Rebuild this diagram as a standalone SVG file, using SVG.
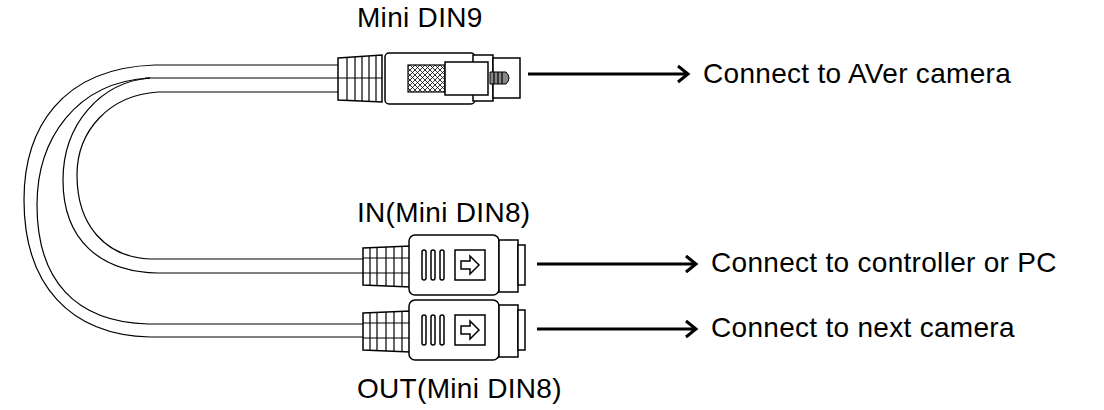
<svg xmlns="http://www.w3.org/2000/svg" width="1104" height="410" viewBox="0 0 1104 410">
<style>
.t{font-family:"Liberation Sans",Arial,sans-serif;font-size:28px;letter-spacing:0.3px;fill:#000}
.c{fill:none;stroke:#000;stroke-width:1.2}
.o{fill:#fff;stroke:#000;stroke-width:1.5}
.a{fill:none;stroke:#000;stroke-width:3}
</style>
<defs>
<pattern id="hx" width="5" height="5" patternUnits="userSpaceOnUse">
<path d="M0,0L5,5M5,0L0,5" stroke="#000" stroke-width="0.8"/>
</pattern>
<g id="din8">
<path class="o" d="M363,248 L410,246 L410,287 L363,285 Z"/>
<path class="c" d="M370,247V286M377,247V286M386,247V286M394,247V286M402,247V286M363,258H410M363,273H410"/>
<rect class="o" x="409" y="235" width="90" height="60" rx="6"/>
<path class="o" d="M499,240H518V292H499Z"/>
<path class="o" d="M518,245H525V285H518Z"/>
<rect class="o" x="422" y="250" width="4" height="30" rx="2"/>
<rect class="o" x="431" y="250" width="4" height="30" rx="2"/>
<rect class="o" x="440" y="250" width="4" height="30" rx="2"/>
<rect class="o" x="455" y="250" width="30" height="30"/>
<path class="o" d="M461,261H470V256L479,265L470,274V269H461Z"/>
</g>
</defs>
<g id="cables">
<path class="c" d="M155,65H340M145,78H340M158,92H340"/>
<path class="c" d="M155,65 C60,68 24,130 24,200 C24,285 70,335 150,337H363"/>
<path class="c" d="M150,78 C75,82 37,140 37,205 C37,280 75,322 148,324H363"/>
<path class="c" d="M150,78 C100,82 63,125 63,180 C63,240 100,272 158,273H363"/>
<path class="c" d="M158,92 C110,95 77,130 77,175 C77,225 105,257 150,259H363"/>
</g>
<g id="din9">
<path class="o" d="M338,58 L382,55 L382,102 L338,100 Z"/>
<path class="c" d="M347,57V101M355,57V101M362,57V101M369,56V102M376,56V102M338,78H382"/>
<rect class="o" x="385" y="53" width="90" height="51" rx="4"/>
<rect x="408" y="65" width="37" height="27" fill="url(#hx)" stroke="#000" stroke-width="1.2"/>
<path class="o" d="M473,55H493V101H473Z"/>
<path class="o" d="M445,62H488V95H445Z"/>
<path class="o" d="M493,58H520V98H493Z"/>
<path d="M490,72H506Q512,78 506,84H490Z" fill="#888" stroke="#000"/>
<path class="c" d="M494,72V84M498,72V84M502,72V84"/>
</g>
<g id="in"><use href="#din8"/></g>
<g id="out"><use href="#din8" transform="translate(0,65)"/></g>
<g id="connectors">
<path class="a" d="M528,74H686M678,66L688,74L678,82"/>
<path class="a" d="M537,264H694M686,256L696,264L686,272"/>
<path class="a" d="M537,329H694M686,321L696,329L686,337"/>
</g>
<g id="labels">
<text class="t" x="357" y="27">Mini DIN9</text>
<text class="t" x="703" y="83">Connect to AVer camera</text>
<text class="t" x="357" y="222">IN(Mini DIN8)</text>
<text class="t" x="711" y="272">Connect to controller or PC</text>
<text class="t" x="711" y="337">Connect to next camera</text>
<text class="t" x="357" y="398">OUT(Mini DIN8)</text>
</g>
</svg>
